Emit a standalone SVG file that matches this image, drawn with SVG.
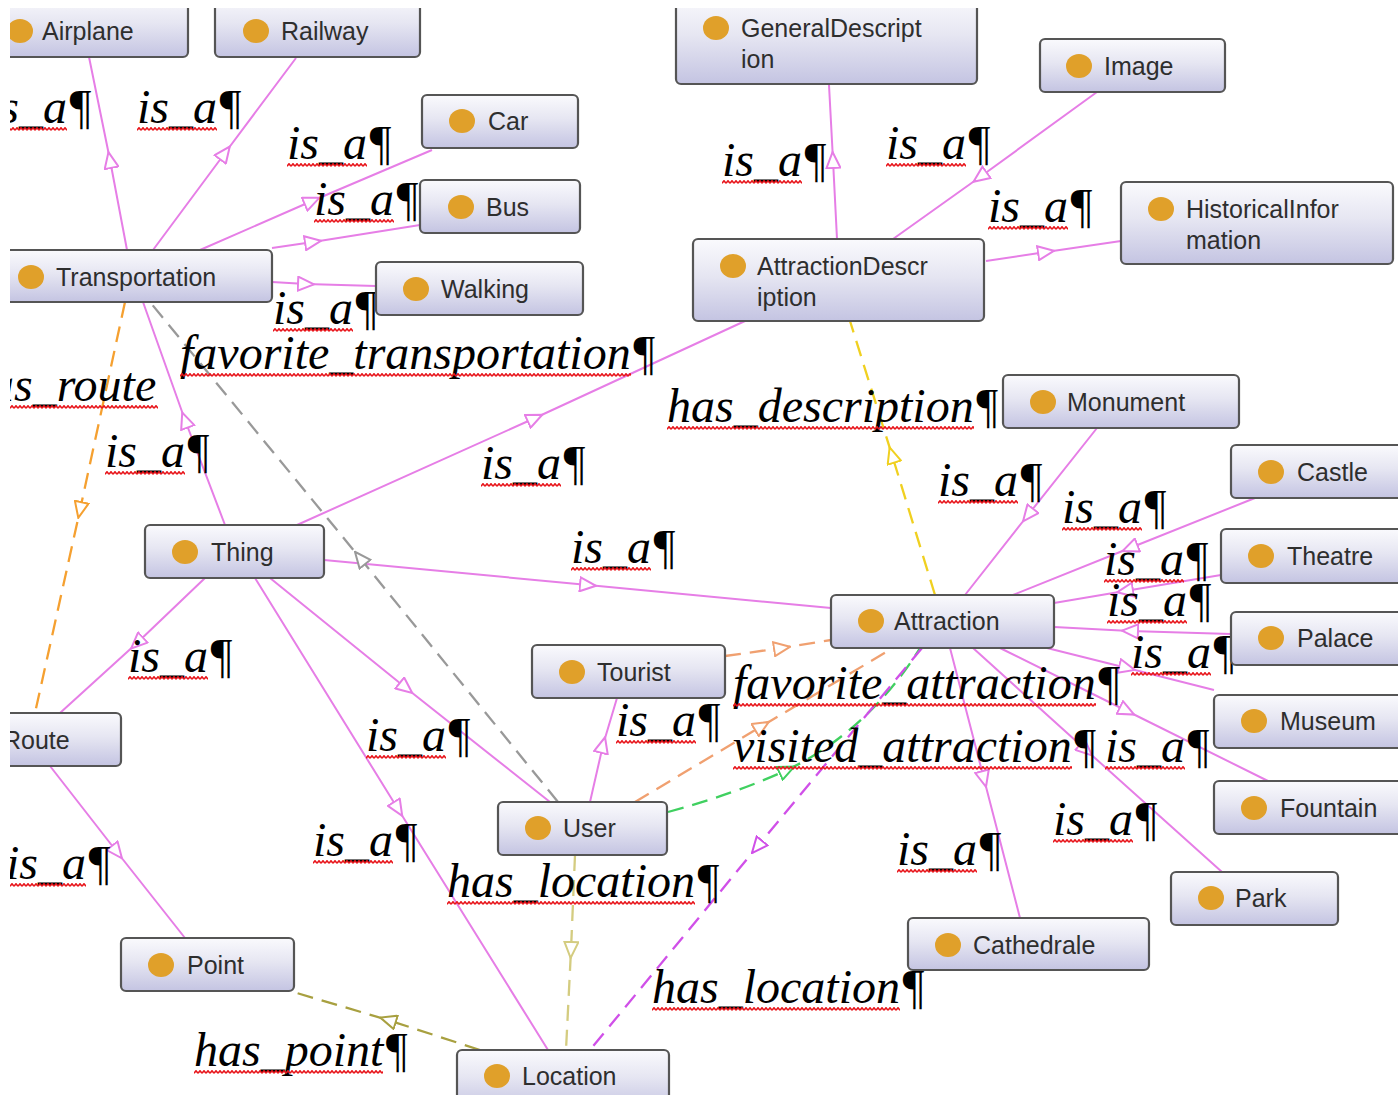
<svg xmlns="http://www.w3.org/2000/svg" width="1398" height="1095" viewBox="0 0 1398 1095">
<defs>
<style>
.node rect{fill:url(#ng);stroke:#555;stroke-width:2.2}
.node ellipse{fill:#e0a02a}
.node text{font-family:"Liberation Sans",Arial,sans-serif;font-size:25px;fill:#2e2e2e}
.lbl text{font-family:"Liberation Serif","Times New Roman",serif;font-style:italic;font-size:48px;fill:#000}
.lbl rect{fill:url(#wavy)}
.c{fill:none;stroke-width:2}
.isa{stroke:#e67ee6;marker-mid:url(#aPink)}
.d{stroke-dasharray:16 9;stroke-width:2.3}
</style>
<linearGradient id="ng" x1="0" y1="0" x2="0" y2="1">
<stop offset="0" stop-color="#fafafd"/>
<stop offset="0.45" stop-color="#e6e6f2"/>
<stop offset="1" stop-color="#c4c4e2"/>
</linearGradient>
<pattern id="wavy" patternUnits="userSpaceOnUse" width="4" height="4">
<path d="M0,3.2 L2,0.8 L4,3.2" fill="none" stroke="#e8141a" stroke-width="1.6"/>
</pattern>
<marker id="aPink" viewBox="-1 -1 18 16" refX="8" refY="7" markerWidth="18" markerHeight="16" markerUnits="userSpaceOnUse" orient="auto"><path d="M0,0 L16,7 L0,14 Z" fill="#fff" stroke="#e67ee6" stroke-width="2"/></marker>
<marker id="aOrange" viewBox="-1 -1 18 16" refX="8" refY="7" markerWidth="18" markerHeight="16" markerUnits="userSpaceOnUse" orient="auto"><path d="M0,0 L16,7 L0,14 Z" fill="#fff" stroke="#f5a030" stroke-width="2"/></marker>
<marker id="aGray" viewBox="-1 -1 18 16" refX="8" refY="7" markerWidth="18" markerHeight="16" markerUnits="userSpaceOnUse" orient="auto"><path d="M0,0 L16,7 L0,14 Z" fill="#fff" stroke="#999" stroke-width="2"/></marker>
<marker id="aYellow" viewBox="-1 -1 18 16" refX="8" refY="7" markerWidth="18" markerHeight="16" markerUnits="userSpaceOnUse" orient="auto"><path d="M0,0 L16,7 L0,14 Z" fill="#fff" stroke="#f0d020" stroke-width="2"/></marker>
<marker id="aSalmon" viewBox="-1 -1 18 16" refX="8" refY="7" markerWidth="18" markerHeight="16" markerUnits="userSpaceOnUse" orient="auto"><path d="M0,0 L16,7 L0,14 Z" fill="#fff" stroke="#f0a070" stroke-width="2"/></marker>
<marker id="aGreen" viewBox="-1 -1 18 16" refX="8" refY="7" markerWidth="18" markerHeight="16" markerUnits="userSpaceOnUse" orient="auto"><path d="M0,0 L16,7 L0,14 Z" fill="#fff" stroke="#40d060" stroke-width="2"/></marker>
<marker id="aMagenta" viewBox="-1 -1 18 16" refX="8" refY="7" markerWidth="18" markerHeight="16" markerUnits="userSpaceOnUse" orient="auto"><path d="M0,0 L16,7 L0,14 Z" fill="#fff" stroke="#d050e8" stroke-width="2"/></marker>
<marker id="aKhaki" viewBox="-1 -1 18 16" refX="8" refY="7" markerWidth="18" markerHeight="16" markerUnits="userSpaceOnUse" orient="auto"><path d="M0,0 L16,7 L0,14 Z" fill="#fff" stroke="#d4cc80" stroke-width="2"/></marker>
<marker id="aOlive" viewBox="-1 -1 18 16" refX="8" refY="7" markerWidth="18" markerHeight="16" markerUnits="userSpaceOnUse" orient="auto"><path d="M0,0 L16,7 L0,14 Z" fill="#fff" stroke="#a8a040" stroke-width="2"/></marker>
<clipPath id="frame"><rect x="10" y="8" width="1388" height="1087"/></clipPath>
</defs>
<rect width="1398" height="1095" fill="#fff"/>
<g clip-path="url(#frame)">
<g id="connectors">
<polyline class="c isa" points="127,250 110,160 89,57"/>
<polyline class="c isa" points="153,250 225,153 296,58"/>
<polyline class="c isa" points="200,250 312,201 432,150"/>
<polyline class="c isa" points="272,248 313,242 420,225"/>
<polyline class="c isa" points="272,282 306,284 376,286"/>
<polyline class="c isa" points="837,239 833,160 829,85"/>
<polyline class="c isa" points="1097,92 980,177 893,239"/>
<polyline class="c isa" points="986,261 1046,252 1121,241"/>
<polyline class="c isa" points="225,525 185,420 143,302"/>
<polyline class="c isa" points="297,525 535,418 745,321"/>
<polyline class="c isa" points="324,560 588,585 831,608"/>
<polyline class="c isa" points="205,578 137,643 60,713"/>
<polyline class="c isa" points="270,578 406,688 550,802"/>
<polyline class="c isa" points="255,578 398,809 548,1050"/>
<polyline class="c isa" points="50,766 117,852 185,938"/>
<polyline class="c isa" points="590,802 603,745 617,698"/>
<polyline class="c isa" points="1097,428 1028,515 965,595"/>
<polyline class="c isa" points="1255,498 1130,548 1013,595"/>
<polyline class="c isa" points="1221,575 1125,591 1054,603"/>
<polyline class="c isa" points="1231,634 1130,631 1054,627"/>
<polyline class="c isa" points="1047,648 1127,668 1214,690"/>
<polyline class="c isa" points="1000,648 1127,711 1268,781"/>
<polyline class="c isa" points="973,648 1086,750 1222,872"/>
<polyline class="c isa" points="950,648 984,779 1020,918"/>
<polyline class="c d" stroke="#f5a030" marker-mid="url(#aOrange)" points="125,302 80,510 35,713"/>
<polyline class="c d" stroke="#999" marker-mid="url(#aGray)" points="558,802 360,558 150,302"/>
<polyline class="c d" stroke="#f0d020" marker-mid="url(#aYellow)" points="935,595 892,455 850,321"/>
<polyline class="c d" stroke="#f0a070" marker-mid="url(#aSalmon)" points="725,656 782,648 831,640"/>
<polyline class="c d" stroke="#f0a070" marker-mid="url(#aSalmon)" points="635,802 762,726 893,648"/>
<path class="c d" stroke="#40d060" marker-mid="url(#aGreen)" d="M668,812 C712,800 752,786 787,770 C842,744 888,700 920,648"/>
<polyline class="c d" stroke="#d050e8" marker-mid="url(#aMagenta)" points="922,648 757,847 590,1050"/>
<polyline class="c d" stroke="#d4cc80" marker-mid="url(#aKhaki)" points="575,855 571,950 566,1050"/>
<polyline class="c d" stroke="#a8a040" marker-mid="url(#aOlive)" points="480,1050 388,1020 290,991"/>
</g>
<g id="labels">
<g class="lbl" transform="translate(-13,123)"><text>is_a¶</text><rect y="4" width="80" height="4"/></g>
<g class="lbl" transform="translate(137,123)"><text>is_a¶</text><rect y="4" width="80" height="4"/></g>
<g class="lbl" transform="translate(287,159)"><text>is_a¶</text><rect y="4" width="80" height="4"/></g>
<g class="lbl" transform="translate(314,215)"><text>is_a¶</text><rect y="4" width="80" height="4"/></g>
<g class="lbl" transform="translate(273,324)"><text>is_a¶</text><rect y="4" width="80" height="4"/></g>
<g class="lbl" transform="translate(180,369)"><text>favorite_transportation¶</text><rect y="4" width="451" height="4"/></g>
<g class="lbl" transform="translate(-34,401)"><text>has_route</text><rect y="4" width="192" height="4"/></g>
<g class="lbl" transform="translate(105,467)"><text>is_a¶</text><rect y="4" width="80" height="4"/></g>
<g class="lbl" transform="translate(481,479)"><text>is_a¶</text><rect y="4" width="80" height="4"/></g>
<g class="lbl" transform="translate(571,563)"><text>is_a¶</text><rect y="4" width="80" height="4"/></g>
<g class="lbl" transform="translate(128,672)"><text>is_a¶</text><rect y="4" width="80" height="4"/></g>
<g class="lbl" transform="translate(366,751)"><text>is_a¶</text><rect y="4" width="80" height="4"/></g>
<g class="lbl" transform="translate(313,856)"><text>is_a¶</text><rect y="4" width="80" height="4"/></g>
<g class="lbl" transform="translate(447,897)"><text>has_location¶</text><rect y="4" width="248" height="4"/></g>
<g class="lbl" transform="translate(6,879)"><text>is_a¶</text><rect y="4" width="80" height="4"/></g>
<g class="lbl" transform="translate(194,1066)"><text>has_point¶</text><rect y="4" width="189" height="4"/></g>
<g class="lbl" transform="translate(616,736)"><text>is_a¶</text><rect y="4" width="80" height="4"/></g>
<g class="lbl" transform="translate(733,699)"><text>favorite_attraction¶</text><rect y="4" width="363" height="4"/></g>
<g class="lbl" transform="translate(733,762)"><text>visited_attraction¶</text><rect y="4" width="339" height="4"/></g>
<g class="lbl" transform="translate(1105,762)"><text>is_a¶</text><rect y="4" width="80" height="4"/></g>
<g class="lbl" transform="translate(652,1003)"><text>has_location¶</text><rect y="4" width="248" height="4"/></g>
<g class="lbl" transform="translate(897,865)"><text>is_a¶</text><rect y="4" width="80" height="4"/></g>
<g class="lbl" transform="translate(1053,835)"><text>is_a¶</text><rect y="4" width="80" height="4"/></g>
<g class="lbl" transform="translate(1131,668)"><text>is_a¶</text><rect y="4" width="80" height="4"/></g>
<g class="lbl" transform="translate(1107,616)"><text>is_a¶</text><rect y="4" width="80" height="4"/></g>
<g class="lbl" transform="translate(1104,575)"><text>is_a¶</text><rect y="4" width="80" height="4"/></g>
<g class="lbl" transform="translate(1062,523)"><text>is_a¶</text><rect y="4" width="80" height="4"/></g>
<g class="lbl" transform="translate(938,496)"><text>is_a¶</text><rect y="4" width="80" height="4"/></g>
<g class="lbl" transform="translate(667,422)"><text>has_description¶</text><rect y="4" width="307" height="4"/></g>
<g class="lbl" transform="translate(722,176)"><text>is_a¶</text><rect y="4" width="80" height="4"/></g>
<g class="lbl" transform="translate(886,159)"><text>is_a¶</text><rect y="4" width="80" height="4"/></g>
<g class="lbl" transform="translate(988,222)"><text>is_a¶</text><rect y="4" width="80" height="4"/></g>
</g>
<g id="n-Airplane" class="node"><rect x="-20" y="-5" width="208" height="62" rx="5"/><ellipse cx="20" cy="31" rx="13" ry="12"/><text x="42" y="40">Airplane</text></g>
<g id="n-Railway" class="node"><rect x="215" y="-5" width="205" height="62" rx="5"/><ellipse cx="256" cy="31" rx="13" ry="12"/><text x="281" y="40">Railway</text></g>
<g id="n-GeneralDescription" class="node"><rect x="676" y="-5" width="301" height="89" rx="5"/><ellipse cx="716" cy="28" rx="13" ry="12"/><text x="741" y="37">GeneralDescript</text><text x="741" y="68">ion</text></g>
<g id="n-Image" class="node"><rect x="1040" y="39" width="185" height="53" rx="5"/><ellipse cx="1079" cy="66" rx="13" ry="12"/><text x="1104" y="75">Image</text></g>
<g id="n-Car" class="node"><rect x="422" y="95" width="156" height="53" rx="5"/><ellipse cx="462" cy="121" rx="13" ry="12"/><text x="488" y="130">Car</text></g>
<g id="n-Bus" class="node"><rect x="420" y="180" width="160" height="53" rx="5"/><ellipse cx="461" cy="207" rx="13" ry="12"/><text x="486" y="216">Bus</text></g>
<g id="n-HistoricalInformation" class="node"><rect x="1121" y="182" width="272" height="82" rx="5"/><ellipse cx="1161" cy="209" rx="13" ry="12"/><text x="1186" y="218">HistoricalInfor</text><text x="1186" y="249">mation</text></g>
<g id="n-Transportation" class="node"><rect x="-20" y="250" width="292" height="52" rx="5"/><ellipse cx="31" cy="277" rx="13" ry="12"/><text x="56" y="286">Transportation</text></g>
<g id="n-Walking" class="node"><rect x="376" y="262" width="207" height="53" rx="5"/><ellipse cx="416" cy="289" rx="13" ry="12"/><text x="441" y="298">Walking</text></g>
<g id="n-AttractionDescription" class="node"><rect x="693" y="239" width="291" height="82" rx="5"/><ellipse cx="733" cy="266" rx="13" ry="12"/><text x="757" y="275">AttractionDescr</text><text x="757" y="306">iption</text></g>
<g id="n-Monument" class="node"><rect x="1003" y="375" width="236" height="53" rx="5"/><ellipse cx="1043" cy="402" rx="13" ry="12"/><text x="1067" y="411">Monument</text></g>
<g id="n-Castle" class="node"><rect x="1231" y="445" width="180" height="53" rx="5"/><ellipse cx="1271" cy="472" rx="13" ry="12"/><text x="1297" y="481">Castle</text></g>
<g id="n-Thing" class="node"><rect x="145" y="525" width="179" height="53" rx="5"/><ellipse cx="185" cy="552" rx="13" ry="12"/><text x="211" y="561">Thing</text></g>
<g id="n-Theatre" class="node"><rect x="1221" y="529" width="190" height="54" rx="5"/><ellipse cx="1261" cy="556" rx="13" ry="12"/><text x="1287" y="565">Theatre</text></g>
<g id="n-Attraction" class="node"><rect x="831" y="595" width="223" height="53" rx="5"/><ellipse cx="871" cy="621" rx="13" ry="12"/><text x="894" y="630">Attraction</text></g>
<g id="n-Palace" class="node"><rect x="1231" y="612" width="180" height="53" rx="5"/><ellipse cx="1271" cy="638" rx="13" ry="12"/><text x="1297" y="647">Palace</text></g>
<g id="n-Tourist" class="node"><rect x="532" y="645" width="193" height="53" rx="5"/><ellipse cx="572" cy="672" rx="13" ry="12"/><text x="597" y="681">Tourist</text></g>
<g id="n-Museum" class="node"><rect x="1214" y="695" width="196" height="53" rx="5"/><ellipse cx="1254" cy="721" rx="13" ry="12"/><text x="1280" y="730">Museum</text></g>
<g id="n-Route" class="node"><rect x="-40" y="713" width="161" height="53" rx="5"/><ellipse cx="-20" cy="740" rx="13" ry="12"/><text x="3" y="749">Route</text></g>
<g id="n-Fountain" class="node"><rect x="1214" y="781" width="196" height="53" rx="5"/><ellipse cx="1254" cy="808" rx="13" ry="12"/><text x="1280" y="817">Fountain</text></g>
<g id="n-User" class="node"><rect x="498" y="802" width="169" height="53" rx="5"/><ellipse cx="538" cy="828" rx="13" ry="12"/><text x="563" y="837">User</text></g>
<g id="n-Park" class="node"><rect x="1171" y="872" width="167" height="53" rx="5"/><ellipse cx="1211" cy="898" rx="13" ry="12"/><text x="1235" y="907">Park</text></g>
<g id="n-Cathedrale" class="node"><rect x="908" y="918" width="241" height="52" rx="5"/><ellipse cx="948" cy="945" rx="13" ry="12"/><text x="973" y="954">Cathedrale</text></g>
<g id="n-Point" class="node"><rect x="121" y="938" width="173" height="53" rx="5"/><ellipse cx="161" cy="965" rx="13" ry="12"/><text x="187" y="974">Point</text></g>
<g id="n-Location" class="node"><rect x="457" y="1050" width="212" height="60" rx="5"/><ellipse cx="497" cy="1076" rx="13" ry="12"/><text x="522" y="1085">Location</text></g>
</g>
</svg>
